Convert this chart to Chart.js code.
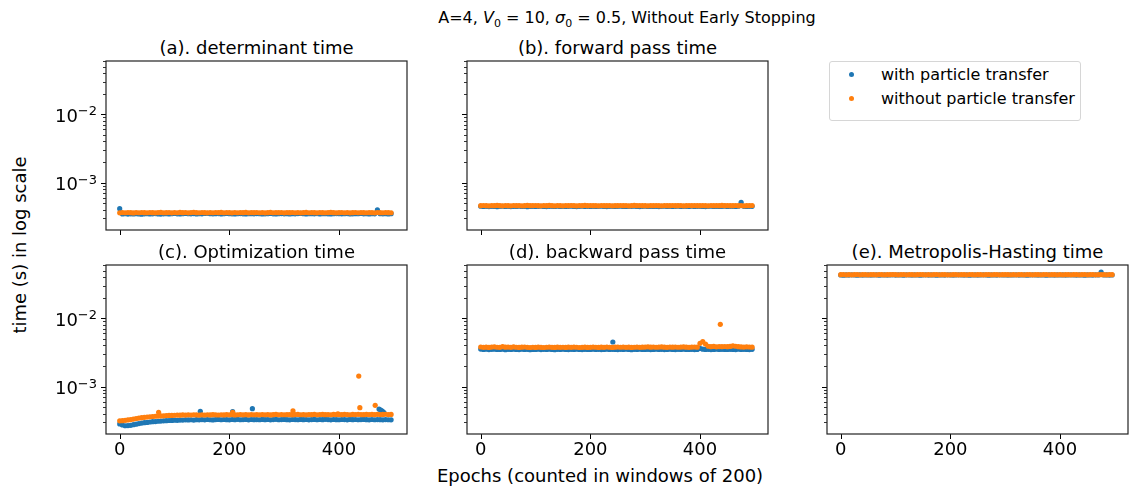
<!DOCTYPE html>
<html>
<head>
<meta charset="utf-8">
<script src="https://cdn.jsdelivr.net/npm/chart.js@4.4.1/dist/chart.umd.min.js"></script>
<style>
  html, body { margin: 0; padding: 0; background: #fff; overflow: hidden; }
  body { width: 1129px; height: 489px; position: relative; font-family: "DejaVu Sans", sans-serif; color: #000; }
  canvas { position: absolute; }
  .txt { position: absolute; white-space: nowrap; line-height: 22px; }
  .sup { font-size: 16px; left: 627px; top: 7px; transform: translateX(-50%); }
  .ptitle { font-size: 18px; transform: translateX(-50%); }
  .xlab { font-size: 18px; left: 600px; top: 465px; transform: translateX(-50%); }
  .ylab { font-size: 18px; left: 20px; top: 245px; transform: translate(-50%, -50%) rotate(-90deg); }
  .legend { position: absolute; left: 829px; top: 61px; width: 250px; height: 58px; border: 1px solid #d6d6d6; border-radius: 3px; }
  .legend .row { position: absolute; left: 0; height: 22px; line-height: 22px; font-size: 16px; }
  .legend .dot { position: absolute; left: 19px; top: 8px; width: 5px; height: 5px; border-radius: 50%; }
  .legend .lab { position: absolute; left: 51px; top: 0; white-space: nowrap; }
</style>
</head>
<body>
<div class="txt sup">A=4, <i>V</i><sub style="font-size:11px">0</sub> = 10, <i>σ</i><sub style="font-size:11px">0</sub> = 0.5, Without Early Stopping</div>
<div class="txt xlab">Epochs (counted in windows of 200)</div>
<div class="txt ylab">time (s) in log scale</div>
<div class="legend" id="legend"></div>
<script>
// epochs are sampled every 5 windows; values are in milliseconds
const epochs = Array.from({ length: 100 }, (_, i) => i * 5);
const xTicks = [0, 200, 400];
const yMajor = [1e-3, 1e-2];
const yMajorExp = ['−3', '−2'];
const yMinor = [3e-4, 4e-4, 5e-4, 6e-4, 7e-4, 8e-4, 9e-4,
  2e-3, 3e-3, 4e-3, 5e-3, 6e-3, 7e-3, 8e-3, 9e-3,
  2e-2, 3e-2, 4e-2, 5e-2, 6e-2];
const seriesNames = ['with particle transfer', 'without particle transfer'];
const panelTitles = ['(a). determinant time', '(b). forward pass time', '(c). Optimization time',
  '(d). backward pass time', '(e). Metropolis-Hasting time'];

const detWith = [
  0.416,0.349,0.351,0.347,0.350,0.348,0.352,0.349,0.346,0.350,
  0.351,0.348,0.350,0.353,0.349,0.347,0.350,0.352,0.348,0.351,
  0.354,0.350,0.349,0.352,0.355,0.351,0.350,0.353,0.349,0.352,
  0.350,0.354,0.356,0.352,0.350,0.351,0.353,0.349,0.351,0.354,
  0.352,0.350,0.348,0.351,0.353,0.350,0.349,0.352,0.351,0.350,
  0.353,0.351,0.349,0.350,0.352,0.354,0.350,0.348,0.351,0.353,
  0.350,0.352,0.349,0.351,0.350,0.353,0.355,0.351,0.349,0.352,
  0.351,0.350,0.353,0.349,0.351,0.352,0.350,0.348,0.351,0.353,
  0.352,0.350,0.351,0.353,0.349,0.350,0.352,0.351,0.354,0.350,
  0.352,0.349,0.351,0.350,0.399,0.352,0.350,0.351,0.349,0.352];
const detWithout = [
  0.362,0.365,0.363,0.366,0.364,0.361,0.365,0.363,0.366,0.364,
  0.363,0.366,0.364,0.362,0.365,0.367,0.363,0.364,0.366,0.362,
  0.365,0.363,0.367,0.364,0.366,0.362,0.365,0.368,0.364,0.363,
  0.366,0.364,0.362,0.365,0.363,0.366,0.364,0.367,0.363,0.365,
  0.364,0.362,0.366,0.363,0.365,0.364,0.367,0.362,0.365,0.364,
  0.366,0.363,0.365,0.362,0.364,0.367,0.363,0.365,0.364,0.366,
  0.362,0.365,0.364,0.366,0.363,0.365,0.362,0.364,0.367,0.363,
  0.365,0.364,0.362,0.366,0.364,0.363,0.365,0.367,0.364,0.362,
  0.364,0.366,0.363,0.365,0.362,0.364,0.366,0.363,0.365,0.364,
  0.363,0.365,0.364,0.362,0.366,0.364,0.363,0.365,0.364,0.363];

const fwdWith = [
  0.452,0.448,0.450,0.447,0.451,0.449,0.446,0.450,0.452,0.448,
  0.450,0.447,0.451,0.449,0.452,0.448,0.450,0.446,0.449,0.451,
  0.448,0.450,0.452,0.449,0.447,0.451,0.450,0.448,0.452,0.449,
  0.451,0.448,0.450,0.453,0.449,0.447,0.450,0.452,0.448,0.450,
  0.449,0.451,0.448,0.450,0.452,0.449,0.447,0.451,0.450,0.448,
  0.450,0.452,0.449,0.448,0.451,0.450,0.453,0.449,0.447,0.450,
  0.452,0.449,0.450,0.448,0.451,0.447,0.450,0.452,0.449,0.451,
  0.448,0.450,0.453,0.449,0.451,0.450,0.448,0.452,0.449,0.450,
  0.451,0.449,0.447,0.450,0.452,0.448,0.451,0.449,0.450,0.453,
  0.449,0.451,0.450,0.448,0.452,0.517,0.450,0.449,0.451,0.450];
const fwdWithout = [
  0.460,0.463,0.461,0.458,0.462,0.460,0.464,0.461,0.459,0.462,
  0.461,0.459,0.463,0.460,0.462,0.458,0.461,0.464,0.460,0.462,
  0.463,0.460,0.458,0.462,0.461,0.464,0.460,0.459,0.462,0.461,
  0.459,0.462,0.460,0.463,0.461,0.458,0.462,0.460,0.464,0.461,
  0.462,0.460,0.461,0.459,0.463,0.461,0.460,0.462,0.458,0.461,
  0.460,0.463,0.461,0.462,0.459,0.461,0.464,0.460,0.462,0.461,
  0.461,0.459,0.462,0.460,0.463,0.461,0.458,0.462,0.461,0.460,
  0.463,0.461,0.460,0.462,0.459,0.461,0.463,0.460,0.462,0.461,
  0.460,0.462,0.461,0.459,0.463,0.460,0.462,0.461,0.464,0.460,
  0.462,0.460,0.461,0.463,0.460,0.462,0.459,0.461,0.462,0.463];

const optWith = [
  0.285,0.275,0.268,0.270,0.272,0.278,0.283,0.288,0.293,0.297,
  0.300,0.304,0.307,0.309,0.312,0.314,0.316,0.318,0.320,0.321,
  0.323,0.322,0.325,0.324,0.327,0.326,0.328,0.325,0.329,0.327,
  0.330,0.327,0.331,0.328,0.326,0.330,0.332,0.328,0.331,0.329,
  0.327,0.331,0.329,0.333,0.328,0.330,0.332,0.327,0.331,0.329,
  0.330,0.328,0.332,0.329,0.331,0.327,0.330,0.333,0.328,0.330,
  0.332,0.329,0.327,0.331,0.330,0.328,0.332,0.329,0.331,0.327,
  0.330,0.332,0.328,0.331,0.329,0.333,0.330,0.327,0.331,0.329,
  0.328,0.331,0.330,0.327,0.332,0.329,0.331,0.328,0.330,0.332,
  0.329,0.327,0.331,0.328,0.330,0.329,0.327,0.330,0.328,0.327];
const optWithout = [
  0.316,0.318,0.322,0.326,0.330,0.336,0.342,0.347,0.352,0.356,
  0.360,0.363,0.366,0.369,0.371,0.373,0.375,0.377,0.379,0.380,
  0.382,0.384,0.383,0.386,0.384,0.387,0.385,0.388,0.386,0.384,
  0.387,0.385,0.388,0.386,0.389,0.387,0.385,0.388,0.386,0.389,
  0.387,0.390,0.386,0.388,0.391,0.387,0.389,0.386,0.390,0.388,
  0.389,0.387,0.391,0.388,0.390,0.386,0.389,0.392,0.388,0.390,
  0.388,0.391,0.389,0.387,0.390,0.392,0.388,0.390,0.387,0.391,
  0.389,0.392,0.388,0.390,0.393,0.389,0.391,0.388,0.392,0.390,
  0.391,0.389,0.393,0.390,0.388,0.392,0.390,0.394,0.391,0.389,
  0.392,0.390,0.393,0.391,0.394,0.390,0.392,0.395,0.391,0.393];
// isolated slow windows: [epoch, ms]
const optWithSpikes = [[147, 0.436], [206, 0.430], [242, 0.477], [473, 0.470], [476, 0.455], [479, 0.440], [482, 0.418]];
const optWithoutSpikes = [[71, 0.422], [206, 0.420], [316, 0.441], [398, 0.400], [436, 1.43], [438, 0.493], [466, 0.534]];

const bwdWith = [
  3.55,3.50,3.53,3.49,3.52,3.54,3.50,3.51,3.53,3.48,
  3.52,3.50,3.54,3.51,3.49,3.53,3.50,3.52,3.48,3.51,
  3.50,3.53,3.49,3.52,3.51,3.54,3.50,3.48,3.52,3.50,
  3.53,3.51,3.49,3.52,3.50,3.54,3.51,3.49,3.52,3.50,
  3.51,3.53,3.50,3.52,3.49,3.51,3.53,3.50,3.52,3.51,
  3.49,3.52,3.50,3.53,3.51,3.48,3.52,3.50,3.54,3.51,
  3.50,3.52,3.49,3.51,3.53,3.50,3.52,3.49,3.51,3.53,
  3.51,3.49,3.52,3.50,3.54,3.51,3.50,3.52,3.49,3.51,
  3.62,3.53,3.50,3.52,3.49,3.51,3.53,3.50,3.52,3.51,
  3.50,3.52,3.51,3.49,3.53,3.50,3.52,3.51,3.49,3.52];
const bwdWithout = [
  3.80,3.76,3.78,3.75,3.79,3.82,3.77,3.76,3.84,3.78,
  3.79,3.76,3.81,3.77,3.75,3.78,3.80,3.76,3.74,3.77,
  3.75,3.78,3.76,3.74,3.77,3.79,3.76,3.75,3.78,3.76,
  3.77,3.75,3.78,3.76,3.79,3.77,3.74,3.76,3.78,3.75,
  3.76,3.79,3.77,3.75,3.78,3.76,3.80,3.77,3.75,3.78,
  3.80,3.77,3.79,3.76,3.78,3.75,3.77,3.79,3.76,3.78,
  3.79,3.82,3.78,3.80,3.77,3.79,3.81,3.78,3.76,3.79,
  3.78,3.80,3.77,3.79,3.81,3.78,3.76,3.79,3.80,3.78,
  4.30,4.55,4.20,3.90,3.85,3.88,3.82,3.86,3.84,3.87,
  3.85,3.88,3.95,3.90,3.84,3.81,3.79,3.82,3.80,3.78];
const bwdWithSpikes = [[241, 4.50]];
const bwdWithoutSpikes = [[437, 8.17]];

const mhWith = [
  43.0,42.8,43.1,42.9,43.2,43.0,42.8,43.1,42.9,43.0,
  43.1,42.9,43.0,43.2,42.8,43.0,43.1,42.9,43.0,43.2,
  42.9,43.1,43.0,42.8,43.2,43.0,42.9,43.1,43.0,42.8,
  43.0,43.2,42.9,43.1,43.0,42.8,43.1,43.0,42.9,43.2,
  43.1,42.9,43.0,43.2,43.0,42.9,43.1,42.8,43.0,43.1,
  42.9,43.0,43.2,43.0,42.8,43.1,43.0,42.9,43.2,43.0,
  43.0,42.9,43.1,43.0,43.2,42.9,43.0,43.1,42.8,43.0,
  43.2,43.0,42.9,43.1,43.0,42.8,43.1,43.0,42.9,43.1,
  43.0,43.1,42.9,43.0,43.2,43.0,42.9,43.1,43.0,42.8,
  43.1,43.0,42.9,43.2,43.0,47.5,43.0,43.1,42.9,43.0];
const mhWithout = [
  43.4,43.6,43.3,43.5,43.2,43.4,43.6,43.3,43.5,43.4,
  43.3,43.5,43.4,43.2,43.6,43.4,43.3,43.5,43.4,43.6,
  43.5,43.3,43.4,43.6,43.2,43.4,43.5,43.3,43.4,43.6,
  43.4,43.2,43.5,43.3,43.4,43.6,43.3,43.4,43.5,43.2,
  43.3,43.5,43.4,43.2,43.4,43.5,43.3,43.6,43.4,43.3,
  43.5,43.4,43.2,43.4,43.6,43.3,43.4,43.5,43.2,43.4,
  43.4,43.5,43.3,43.4,43.2,43.5,43.4,43.3,43.6,43.4,
  43.2,43.4,43.5,43.3,43.4,43.6,43.3,43.4,43.5,43.3,
  43.4,43.3,43.5,43.4,43.2,43.4,43.5,43.3,43.4,43.6,
  43.3,43.4,43.6,43.2,43.4,43.5,43.4,43.3,43.4,43.5];

const COLORS = ['#1f77b4', '#ff7f0e'];
const FONT = 'DejaVu Sans';
const Y_MIN = 2.03e-4, Y_MAX = 0.0602;
const X_MIN = -25, X_MAX = 524;

// plot boxes (left, top) in page pixels, all 301 x 169
const PW = 301, PH = 169, ML = 70, MR = 4, MT = 4, MB = 36;
const panels = [
  { left: 106, top: 61, title: 0, with: detWith, without: detWithout, xLabels: false, yLabels: true },
  { left: 467, top: 61, title: 1, with: fwdWith, without: fwdWithout, xLabels: false, yLabels: false },
  { left: 106, top: 265, title: 2, with: optWith, without: optWithout, withExtra: optWithSpikes, withoutExtra: optWithoutSpikes, xLabels: true, yLabels: true },
  { left: 467, top: 265, title: 3, with: bwdWith, without: bwdWithout, withExtra: bwdWithSpikes, withoutExtra: bwdWithoutSpikes, xLabels: true, yLabels: false },
  { left: 827, top: 265, title: 4, with: mhWith, without: mhWithout, xLabels: true, yLabels: false }
];

function toPoints(vals, extra) {
  const pts = vals.map((v, i) => ({ x: epochs[i], y: v / 1000 }));
  (extra || []).forEach(([e, v]) => pts.push({ x: e, y: v / 1000 }));
  return pts;
}

// full box around the axes, outward tick marks and 10^n labels
const axesFrame = {
  id: 'axesFrame',
  afterDraw(chart, args, opts) {
    const { ctx, chartArea: a } = chart;
    const xs = chart.scales.x, ys = chart.scales.y;
    ctx.save();
    ctx.strokeStyle = '#000';
    ctx.lineWidth = 1;
    ctx.beginPath();
    xTicks.forEach(v => {
      const px = Math.round(xs.getPixelForValue(v)) + 0.5;
      ctx.moveTo(px, a.bottom);
      ctx.lineTo(px, a.bottom + 5);
    });
    yMajor.forEach(v => {
      const py = Math.round(ys.getPixelForValue(v)) + 0.5;
      ctx.moveTo(a.left, py);
      ctx.lineTo(a.left - 5, py);
    });
    ctx.stroke();
    ctx.lineWidth = 0.8;
    ctx.beginPath();
    yMinor.forEach(v => {
      const py = Math.round(ys.getPixelForValue(v)) + 0.5;
      ctx.moveTo(a.left, py);
      ctx.lineTo(a.left - 3, py);
    });
    ctx.stroke();
    ctx.lineWidth = 1.2;
    ctx.strokeStyle = '#222';
    ctx.strokeRect(a.left, a.top, a.right - a.left, a.bottom - a.top);

    if (opts.labels) {
      ctx.fillStyle = '#000';
      ctx.textBaseline = 'alphabetic';
      ctx.textAlign = 'left';
      yMajor.forEach((v, k) => {
        const py = ys.getPixelForValue(v);
        ctx.font = '13px "' + FONT + '"';
        const wExp = ctx.measureText(yMajorExp[k]).width;
        ctx.font = '18px "' + FONT + '"';
        const wBase = ctx.measureText('10').width;
        const x0 = a.left - 9 - wExp - wBase;
        ctx.fillText('10', x0, py + 7.5);
        ctx.font = '13px "' + FONT + '"';
        ctx.fillText(yMajorExp[k], x0 + wBase, py + 1);
      });
    }
    ctx.restore();
  }
};

panels.forEach(p => {
  const title = document.createElement('div');
  title.className = 'txt ptitle';
  title.textContent = panelTitles[p.title];
  title.style.left = (p.left + PW / 2) + 'px';
  title.style.top = (p.top - 24) + 'px';
  document.body.appendChild(title);

  const cv = document.createElement('canvas');
  cv.width = ML + PW + MR;
  cv.height = MT + PH + MB;
  cv.style.left = (p.left - ML) + 'px';
  cv.style.top = (p.top - MT) + 'px';
  document.body.appendChild(cv);

  new Chart(cv, {
    type: 'scatter',
    data: {
      datasets: [{
        label: seriesNames[0],
        data: toPoints(p.with, p.withExtra),
        backgroundColor: COLORS[0],
        pointRadius: 2.6,
        pointBorderWidth: 0,
        pointHoverRadius: 0,
        order: 2
      }, {
        label: seriesNames[1],
        data: toPoints(p.without, p.withoutExtra),
        backgroundColor: COLORS[1],
        pointRadius: 2.6,
        pointBorderWidth: 0,
        pointHoverRadius: 0,
        order: 1
      }]
    },
    options: {
      responsive: false,
      animation: false,
      events: [],
      layout: { padding: { left: 0, right: MR, top: MT, bottom: 0 } },
      plugins: {
        legend: { display: false },
        tooltip: { enabled: false },
        axesFrame: { labels: p.yLabels }
      },
      scales: {
        x: {
          type: 'linear',
          min: X_MIN,
          max: X_MAX,
          afterBuildTicks: s => { s.ticks = xTicks.map(v => ({ value: v })); },
          afterFit: s => { s.height = MB; s.paddingLeft = 0; s.paddingRight = 0; },
          grid: { display: false, drawTicks: false },
          border: { display: false },
          ticks: {
            display: p.xLabels,
            autoSkip: false,
            maxRotation: 0,
            padding: 6,
            color: '#000',
            font: { family: FONT, size: 18 }
          }
        },
        y: {
          type: 'logarithmic',
          min: Y_MIN,
          max: Y_MAX,
          afterBuildTicks: s => { s.ticks = yMajor.concat(yMinor).map(v => ({ value: v })); },
          afterFit: s => { s.width = ML; s.paddingTop = 0; s.paddingBottom = 0; },
          grid: { display: false, drawTicks: false },
          border: { display: false },
          ticks: { display: false }
        }
      }
    },
    plugins: [axesFrame]
  });
});

// legend entries
const legend = document.getElementById('legend');
seriesNames.forEach((name, i) => {
  const row = document.createElement('div');
  row.className = 'row';
  row.style.top = (2 + i * 24) + 'px';
  row.innerHTML = '<span class="dot" style="background:' + COLORS[i] + '"></span><span class="lab"></span>';
  row.querySelector('.lab').textContent = name;
  legend.appendChild(row);
});
</script>
</body>
</html>
